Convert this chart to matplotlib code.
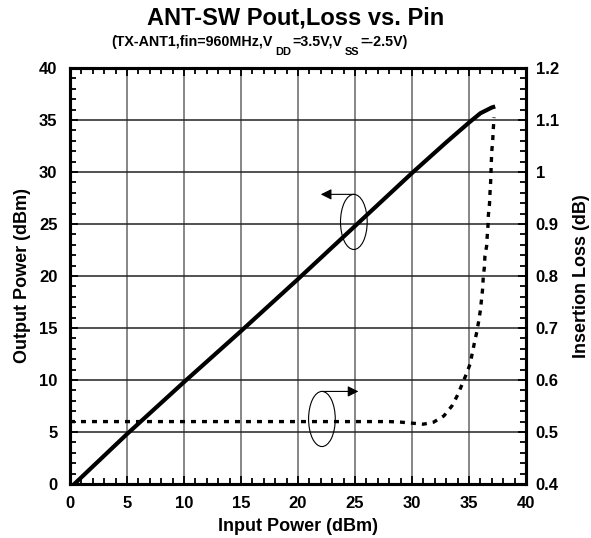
import matplotlib
matplotlib.use("Agg")
import matplotlib.pyplot as plt
from matplotlib.patches import Ellipse
from matplotlib.ticker import MultipleLocator, FuncFormatter

plt.rcParams["font.family"] = ["Liberation Sans", "DejaVu Sans"]
plt.rcParams["font.weight"] = "bold"

# Output power vs input power (dBm)
pin_pout = [0, 5, 10, 15, 20, 25, 30, 33, 35, 36, 37, 37.3]
pout = [-0.4, 4.8, 9.8, 14.7, 19.7, 24.8, 29.9, 32.85, 34.75, 35.65, 36.2, 36.3]

# Insertion loss vs input power (dB)
pin_loss = [0, 10, 20, 28, 29, 30, 31, 31.9, 32.8, 33.5, 34.0, 34.4, 34.8, 35.1,
            35.3, 35.5, 35.7, 35.85, 36.0, 36.1, 36.2, 36.25, 36.35, 36.4, 36.55,
            36.6, 36.67, 36.7, 36.8, 36.84, 36.9, 36.93, 36.96, 37.0, 37.08, 37.13, 37.2]
loss = [0.52, 0.52, 0.52, 0.52, 0.519, 0.517, 0.515, 0.519, 0.531, 0.550, 0.571,
        0.592, 0.613, 0.631, 0.653, 0.674, 0.694, 0.713, 0.734, 0.755, 0.776, 0.797,
        0.817, 0.839, 0.858, 0.877, 0.898, 0.917, 0.939, 0.959, 0.981, 1.0, 1.02,
        1.04, 1.06, 1.082, 1.105]

fig = plt.figure(figsize=(5.91, 5.38), dpi=100)
ax = fig.add_axes([0.1184, 0.1004, 0.7716, 0.7732])
ax2 = ax.twinx()

ax.set_xlim(0, 40)
ax.set_ylim(0, 40)
ax2.set_ylim(0.4, 1.2)

ax.xaxis.set_major_locator(MultipleLocator(5))
ax.xaxis.set_minor_locator(MultipleLocator(1))
ax.yaxis.set_major_locator(MultipleLocator(5))
ax.yaxis.set_minor_locator(MultipleLocator(1))
ax2.yaxis.set_major_locator(MultipleLocator(0.1))
ax2.yaxis.set_minor_locator(MultipleLocator(0.02))
ax2.yaxis.set_major_formatter(FuncFormatter(lambda v, p: "%g" % round(v, 2)))

# grid: vertical lines greyer than horizontal ones
ax.xaxis.grid(True, which="major", color="#666666", lw=1.1)
ax.yaxis.grid(True, which="major", color="#222222", lw=1.1)
ax.set_axisbelow(True)

ax.tick_params(which="both", direction="in", top=True, right=False, width=1.3,
               labelsize=12)
ax.tick_params(which="major", length=6)
ax.tick_params(which="minor", length=4)
ax.tick_params(axis="y", pad=9)
ax.tick_params(axis="x", pad=9)
ax2.tick_params(which="both", direction="in", width=1.3, labelsize=12, pad=7)
ax2.tick_params(which="major", length=6)
ax2.tick_params(which="minor", length=4)

for a in (ax, ax2):
    for s in a.spines.values():
        s.set_linewidth(2.2)

ax.plot(pin_pout, pout, color="black", lw=3, solid_capstyle="butt")
ax2.plot(pin_loss, loss, color="black", lw=2.4, linestyle=(0, (1.5, 1.8)))

# callouts pointing to the axis of each curve
ax.add_patch(Ellipse((24.9, 25.2), 2.34, 5.3, fill=False, ec="black", lw=0.8))
ax.annotate("", xy=(22.0, 27.85), xytext=(24.9, 27.85),
            arrowprops=dict(arrowstyle="-|>", color="black", lw=0.8,
                            mutation_scale=16, shrinkA=0, shrinkB=0))
ax.add_patch(Ellipse((22.1, 6.25), 2.34, 5.3, fill=False, ec="black", lw=0.8))
ax.annotate("", xy=(25.3, 8.9), xytext=(22.1, 8.9),
            arrowprops=dict(arrowstyle="-|>", color="black", lw=0.8,
                            mutation_scale=16, shrinkA=0, shrinkB=0))

ax.set_xlabel("Input Power (dBm)", fontsize=13, fontweight="bold")
ax.xaxis.set_label_coords(0.5, -0.082)
ax.set_ylabel("Output Power (dBm)", fontsize=13, fontweight="bold", labelpad=6)
ax2.set_ylabel("Insertion Loss (dB)", fontsize=13, fontweight="bold", labelpad=10)

fig.text(0.5, 1 - 25 / 538, "ANT-SW Pout,Loss vs. Pin", ha="center", va="baseline",
         fontsize=17, fontweight="bold")

# subtitle with dropped subscripts, built piece by piece
pieces = [("(TX-ANT1,fin=960MHz,V", False), ("DD", True), ("=3.5V,V", False),
          ("SS", True), ("=-2.5V)", False)]
first = ax.annotate(pieces[0][0], xy=(111, 538 - 46), xycoords="figure pixels",
                    ha="left", va="baseline", fontsize=10.3, fontweight="bold",
                    annotation_clip=False)
prev = first
for txt, is_sub in pieces[1:]:
    if is_sub:
        prev = ax.annotate(txt, xy=(1, 0), xycoords=(prev, first),
                           xytext=(2.2, -5.6), textcoords="offset points",
                           ha="left", va="bottom", fontsize=7.9, fontweight="bold",
                           annotation_clip=False)
    else:
        prev = ax.annotate(txt, xy=(1, 0), xycoords=(prev, first),
                           xytext=(0.4, 0), textcoords="offset points",
                           ha="left", va="bottom", fontsize=10.3, fontweight="bold",
                           annotation_clip=False)

fig.savefig("out.png", dpi=100)
